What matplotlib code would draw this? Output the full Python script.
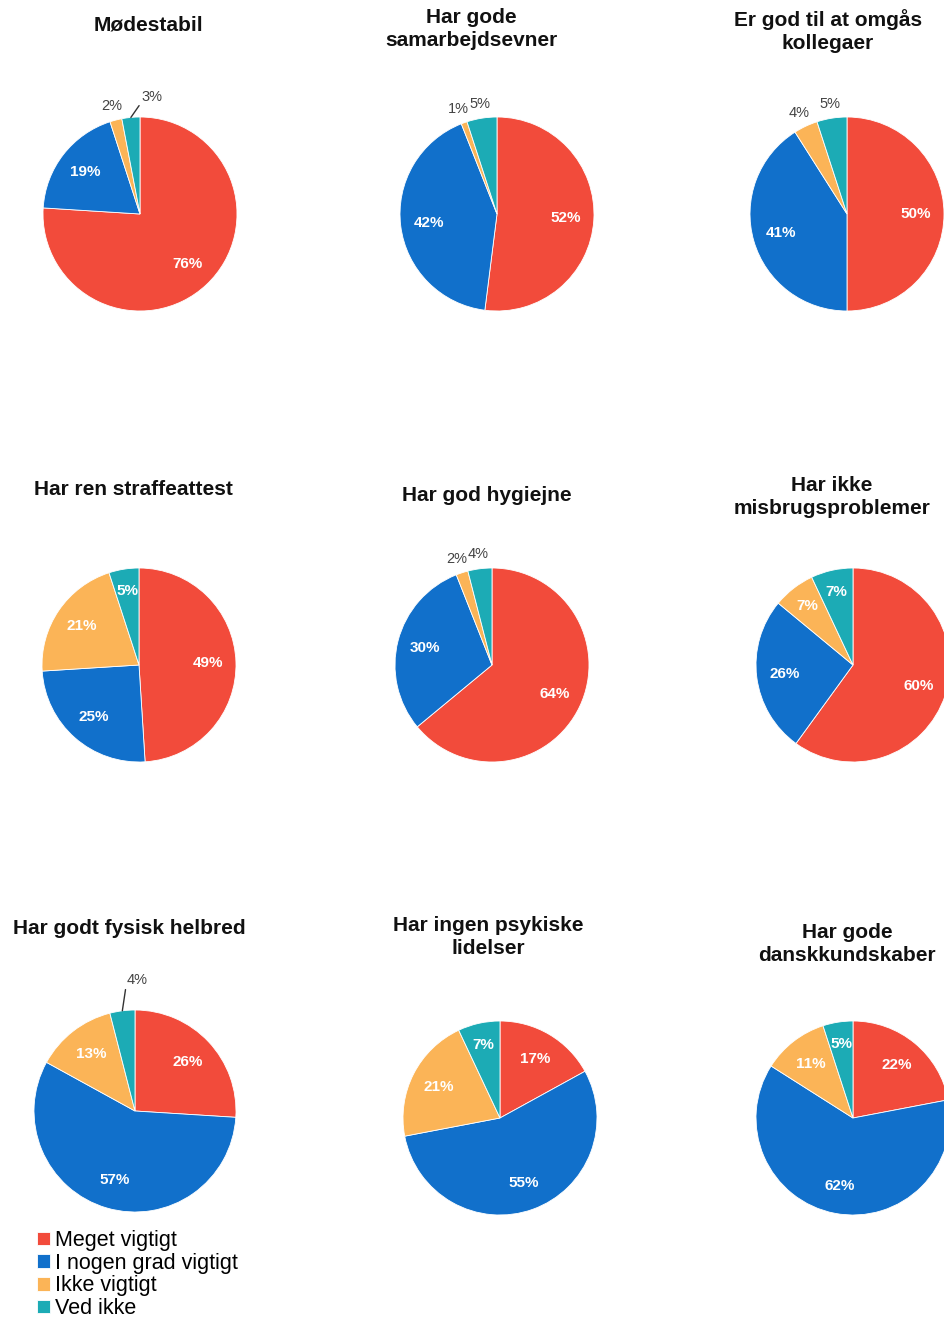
import numpy as np
import matplotlib.pyplot as plt

# survey answers, one pie per statement
titles = ["Mødestabil", "Har gode\nsamarbejdsevner", "Er god til at omgås\nkollegaer",
          "Har ren straffeattest", "Har god hygiejne", "Har ikke\nmisbrugsproblemer",
          "Har godt fysisk helbred", "Har ingen psykiske\nlidelser", "Har gode\ndanskkundskaber"]
categories = ["Meget vigtigt", "I nogen grad vigtigt", "Ikke vigtigt", "Ved ikke"]
meget = [76, 52, 50, 49, 64, 60, 26, 17, 22]
noget = [19, 42, 41, 25, 30, 26, 57, 55, 62]
ikke = [2, 1, 4, 21, 2, 7, 13, 21, 11]
ved_ikke = [3, 5, 5, 5, 4, 7, 4, 7, 5]

# where each slice label goes: inside, outside, or outside with a leader line
label_mode = [["in", "in", "out", "lead"], ["in", "in", "out", "out"], ["in", "in", "out", "out"],
              ["in", "in", "in", "in"], ["in", "in", "out", "out"], ["in", "in", "in", "in"],
              ["in", "in", "in", "lead"], ["in", "in", "in", "in"], ["in", "in", "in", "in"]]

colors = ["#F24B3B", "#1170CB", "#FBB457", "#1CABB5"]
W, H = 945, 1319

# layout in pixels (y measured from the top)
centers = [(140, 214), (497, 214), (847, 214),
           (139, 665), (492, 665), (853, 665),
           (135, 1111), (500, 1118), (853, 1118)]
radii = [97, 97, 97, 97, 97, 97, 101, 97, 97]
title_pos = [(148, 25), (471, 29), (828, 31),
             (133, 490), (487, 496), (832, 497),
             (129, 929), (488, 937), (847, 944)]
lead_offsets = {0: (11, 20), 6: (4, 31)}

fig = plt.figure(figsize=(W / 100, H / 100), dpi=100)
ax = fig.add_axes([0, 0, 1, 1])
font = "Liberation Sans"

wedge_sets = []
for i in range(9):
    vals = [meget[i], noget[i], ikke[i], ved_ikke[i]]
    cx, cy = centers[i]
    r = radii[i]
    wedges, _ = ax.pie(vals, colors=colors, startangle=90, counterclock=False,
                       center=(cx, H - cy), radius=r,
                       wedgeprops=dict(edgecolor="white", linewidth=0.6))
    wedge_sets.append(wedges)
    for k, w in enumerate(wedges):
        mid = np.deg2rad((w.theta1 + w.theta2) / 2)
        mode = label_mode[i][k]
        txt = "%d%%" % vals[k]
        if mode == "in":
            d = 0.77 * r if vals[k] < 10 else 0.71 * r
            ax.text(cx + d * np.cos(mid), H - cy + d * np.sin(mid), txt,
                    ha="center", va="center", color="white", fontsize=11,
                    fontweight="bold", family=font)
        elif mode == "out":
            d = 1.15 * r
            ha = "right" if k == 2 else "center"
            xo = 10 if k == 2 else 0
            ax.text(cx + d * np.cos(mid) + xo, H - cy + d * np.sin(mid), txt,
                    ha=ha, va="center", color="#444444", fontsize=10.5, family=font)
        else:
            ex, ey = cx + r * np.cos(mid), H - cy + r * np.sin(mid)
            ax.annotate(txt, xy=(ex, ey), xytext=lead_offsets[i], textcoords="offset pixels",
                        ha="left", va="center", color="#444444", fontsize=10.5, family=font,
                        arrowprops=dict(arrowstyle="-", color="#333333", lw=1.0,
                                        relpos=(0, 0.2), shrinkA=0, shrinkB=0))
    tx, ty = title_pos[i]
    ax.text(tx, H - ty, titles[i], ha="center", va="center", fontsize=15,
            fontweight="bold", family=font, color="#111111", linespacing=1.3)

ax.set_xlim(0, W)
ax.set_ylim(0, H)
ax.axis("off")

ax.legend(wedge_sets[6], categories, loc="upper left", bbox_to_anchor=(37, H - 1230),
          bbox_transform=ax.transData, frameon=False, borderpad=0, borderaxespad=0,
          handlelength=0.6, handleheight=0.6, handletextpad=0.25, labelspacing=0.08,
          prop={"family": font, "size": 15.5})

fig.savefig("out.png", dpi=100)
